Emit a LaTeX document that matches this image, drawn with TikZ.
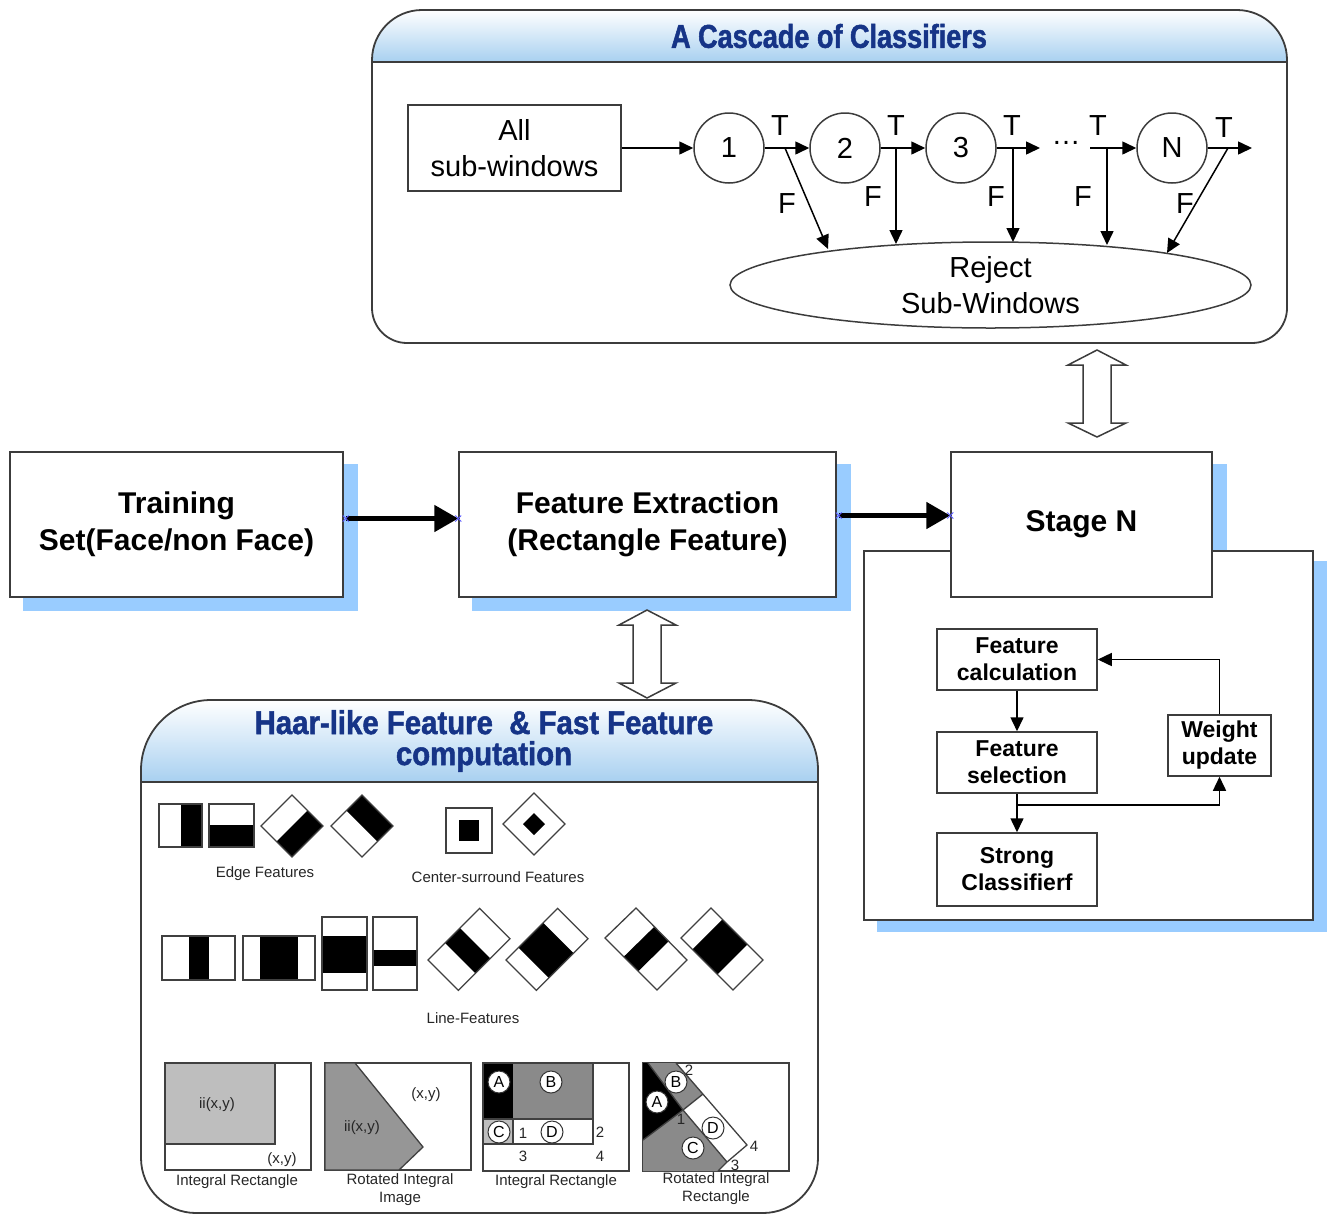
\documentclass[tikz,border=0pt]{standalone}
\usepackage{fontspec}
\setmainfont{Liberation Sans}
\newfontfamily\titlefont[FakeStretch=0.82,FakeBold=1.5]{Liberation Sans Bold}
\newfontfamily\htitlefont[FakeStretch=0.89,FakeBold=1.5]{Liberation Sans Bold}
\usetikzlibrary{arrows.meta,shapes.geometric,calc,backgrounds}
\definecolor{shadowblue}{RGB}{153,204,255}
\definecolor{headblue}{RGB}{168,208,240}
\definecolor{titleblue}{RGB}{22,52,135}
\definecolor{framegray}{RGB}{60,60,60}
\definecolor{lgray}{RGB}{190,190,190}
\definecolor{mgray}{RGB}{150,150,150}
\definecolor{dgray}{RGB}{138,138,138}
\definecolor{xblue}{RGB}{90,90,255}
\begin{document}
\begin{tikzpicture}[x=1pt,y=-1pt,
  frame/.style={draw=framegray, line width=1.8pt},
  box/.style={draw=framegray, line width=1.5pt, fill=white, inner sep=0pt, align=center},
  mainbox/.style={box, font=\fontsize{30}{37}\selectfont\bfseries},
  stagebox/.style={box, font=\fontsize{23}{27}\selectfont\bfseries},
  casc/.style={font=\fontsize{29}{36}\selectfont},
  stagecirc/.style={circle, draw=framegray, line width=1.5pt, minimum size=70pt, inner sep=0pt, casc},
  thinarrow/.style={draw=black, line width=1.5pt, -{Triangle[length=14pt,width=13pt]}},
  bigarrow/.style={draw=black, line width=5pt, -{Triangle[length=24pt,width=26pt]}},
  capt/.style={font=\fontsize{15}{18}\selectfont, text=black!85, align=center, inner sep=0pt},
  lab/.style={circle, draw=black!80, line width=1pt, fill=white, inner sep=0pt, minimum size=22pt, font=\fontsize{16}{16}\selectfont},
  feat/.style={draw=black!75, line width=1.3pt},
  xmark/.style={draw=xblue, line width=0.8pt}
]
\useasboundingbox (0,0) rectangle (1327,1216);

% ---------------- Cascade container ----------------
\begin{scope}
  \clip[rounded corners=50pt] (372,343) rectangle (1287,10);
  \shade[top color=white, bottom color=headblue] (372,10) rectangle (1287,62);
\end{scope}
\draw[frame, rounded corners=50pt] (372,200) -- (372,10) -- (1287,10) -- (1287,200);
\draw[frame, rounded corners=35pt] (1287,190) -- (1287,343) -- (372,343) -- (372,190);
\draw[frame] (372,62) -- (1287,62);
\node[font=\titlefont\fontsize{33}{33}\selectfont, text=titleblue] (ctitle) at (829,36) {A Cascade of Classifiers};

\node[box, casc, minimum width=213pt, minimum height=86pt] (allsub) at (514.5,148) {All\\sub-windows};
\node[stagecirc] (c1) at (729,148) {1};
\node[stagecirc] (c2) at (845,148) {2};
\node[stagecirc] (c3) at (961,148) {3};
\node[stagecirc] (cN) at (1172,148) {N};
\node[ellipse, draw=framegray, line width=1.5pt, minimum width=521pt, minimum height=86pt, inner sep=0pt, casc, align=center] (reject) at (990.5,285) {Reject\\Sub-Windows};

\coordinate (j1) at (785,148);
\coordinate (j2) at (896,148);
\coordinate (j3) at (1013,148);
\coordinate (j4) at (1107,148);
\coordinate (j5) at (1228,148);
\coordinate (r1) at (828,249);
\coordinate (r2) at (896,244);
\coordinate (r3) at (1013,242);
\coordinate (r4) at (1107,245);
\coordinate (r5) at (1167,253);
\coordinate (o3) at (1040,148);
\coordinate (i4) at (1090,148);
\coordinate (o5) at (1252,148);

\draw[thinarrow] (allsub) -- (c1);
\draw[thinarrow] (c1) -- (c2);
\draw[thinarrow] (c2) -- (c3);
\draw[thinarrow] (c3) -- (o3);
\draw[thinarrow] (i4) -- (cN);
\draw[thinarrow] (cN) -- (o5);
\draw[thinarrow] (j1) -- (r1);
\draw[thinarrow] (j2) -- (r2);
\draw[thinarrow] (j3) -- (r3);
\draw[thinarrow] (j4) -- (r4);
\draw[thinarrow] (j5) -- (r5);
\node[casc] (dots) at (1066,143) {…};
\node[casc] (t1) at (780,126) {T};
\node[casc] (t2) at (896,126) {T};
\node[casc] (t3) at (1012,126) {T};
\node[casc] (t4) at (1098,126) {T};
\node[casc] (t5) at (1224,128) {T};
\node[casc] (f1) at (787,204) {F};
\node[casc] (f2) at (873,197) {F};
\node[casc] (f3) at (996,197) {F};
\node[casc] (f4) at (1083,197) {F};
\node[casc] (f5) at (1185,204) {F};

% ---------------- Main row ----------------
\node[mainbox, minimum width=333pt, minimum height=145pt] (train) at (176.5,524.5) {Training\\Set(Face/non Face)};
\node[mainbox, minimum width=377pt, minimum height=145pt] (featx) at (647.5,524.5) {Feature Extraction\\(Rectangle Feature)};
\node[box, minimum width=449pt, minimum height=369pt] (stagebig) at (1088.5,735.5) {};
\node[mainbox, minimum width=261pt, minimum height=145pt] (stageN) at (1081.5,524.5) {Stage N};

\begin{pgfonlayer}{background}
  \fill[shadowblue] ($(train.north west)+(14,13)$) rectangle ($(train.south east)+(14,13)$);
  \fill[shadowblue] ($(featx.north west)+(14,13)$) rectangle ($(featx.south east)+(14,13)$);
  \fill[shadowblue] ($(stageN.north west)+(14,13)$) rectangle ($(stageN.south east)+(14,13)$);
  \fill[shadowblue] ($(stagebig.north west)+(14,11)$) rectangle ($(stagebig.south east)+(14,11)$);
\end{pgfonlayer}

\coordinate (a1) at ($(train.east)+(2,-6)$);
\coordinate (a2) at ($(featx.west)+(0,-6)$);
\coordinate (a3) at ($(featx.east)+(2,-9)$);
\coordinate (a4) at ($(stageN.west)+(0,-9)$);
\draw[bigarrow] (a1) -- (a2);
\draw[bigarrow] (a3) -- (a4);
\foreach \p in {a1,a2,a3,a4}{
  \draw[xmark] ($(\p)+(-3,-3)$) -- ($(\p)+(3,3)$);
  \draw[xmark] ($(\p)+(-3,3)$) -- ($(\p)+(3,-3)$);
}

% stage inner
\node[stagebox, minimum width=160pt, minimum height=61pt] (fcalc) at (1017,659.5) {Feature\\calculation};
\node[stagebox, minimum width=160pt, minimum height=61pt] (fsel) at (1017,762.5) {Feature\\selection};
\node[stagebox, minimum width=160pt, minimum height=73pt] (strong) at (1017,869.5) {Strong\\Classifierf};
\node[stagebox, minimum width=103pt, minimum height=61pt] (wupd) at (1219.5,745.5) {Weight\\update};
\coordinate (sp) at (1017,805);
\draw[thinarrow] (fcalc) -- (fsel);
\draw[thinarrow] (fsel) -- (strong);
\draw[thinarrow] (sp) -| (wupd.south);
\draw[thinarrow] (wupd.north) |- (fcalc.east);

% double arrows
\draw[draw=framegray, line width=1.5pt, fill=white] (647,610) -- (676,625) -- (661,625) -- (661,683) -- (676,683) -- (647,698) -- (619,683) -- (633,683) -- (633,625) -- (619,625) -- cycle;
\draw[draw=framegray, line width=1.5pt, fill=white] (1097,350) -- (1126,365) -- (1111,365) -- (1111,423) -- (1126,423) -- (1097,437) -- (1068,423) -- (1083,423) -- (1083,365) -- (1068,365) -- cycle;

% ---------------- Haar container ----------------
\begin{scope}
  \clip[rounded corners=70pt] (141,1213) rectangle (818,700);
  \shade[top color=white, bottom color=headblue] (141,700) rectangle (818,782);
\end{scope}
\draw[frame, rounded corners=70pt] (141,950) -- (141,700) -- (818,700) -- (818,950);
\draw[frame, rounded corners=55pt] (818,940) -- (818,1213) -- (141,1213) -- (141,940);
\draw[frame] (141,782) -- (818,782);
\node[font=\htitlefont\fontsize{33}{31}\selectfont, text=titleblue, align=center] (htitle) at (484,741) {Haar-like Feature \ \& Fast Feature\\computation};

% row 1: edge features
\fill[white] (159,804) rectangle (202,847); \fill[black] (181,804) rectangle (202,847); \draw[feat] (159,804) rectangle (202,847);
\fill[white] (209,804) rectangle (254,847); \fill[black] (209,825) rectangle (254,847); \draw[feat] (209,804) rectangle (254,847);
\fill[black] (276.5,841.5) -- (292,857) -- (323,826) -- (307.5,810.5) -- cycle;
\draw[feat] (261,826) -- (292,795) -- (323,826) -- (292,857) -- cycle;
\fill[black] (346.5,810.5) -- (362,795) -- (393,826) -- (377.5,841.5) -- cycle;
\draw[feat] (331,826) -- (362,795) -- (393,826) -- (362,857) -- cycle;
% center surround
\draw[feat] (446,808) rectangle (492,853); \fill[black] (459,820) rectangle (479,841);
\draw[feat] (503,824) -- (534,793) -- (565,824) -- (534,855) -- cycle;
\fill[black] (523,824) -- (534,813) -- (545,824) -- (534,835) -- cycle;
\node[capt] (edgecap) at (265,874) {Edge Features};
\node[capt] (cscap) at (498,877) {Center-surround Features};

% row 2: line features
\fill[black] (189,936) rectangle (209,980); \draw[feat] (162,936) rectangle (235,980);
\fill[black] (260,936) rectangle (298,980); \draw[feat] (243,936) rectangle (315,980);
\fill[black] (322,936) rectangle (367,973); \draw[feat] (322,917) rectangle (367,990);
\fill[black] (373,950) rectangle (417,966); \draw[feat] (373,917) rectangle (417,990);
% rotated line features
\fill[black] ($(428,960)!0.33!(479.6,908.4)$) -- ($(428,960)!0.62!(479.6,908.4)$) -- ($(458.4,990.4)!0.62!(510,938.8)$) -- ($(458.4,990.4)!0.33!(510,938.8)$) -- cycle;
\draw[feat] (428,960) -- (479.6,908.4) -- (510,938.8) -- (458.4,990.4) -- cycle;
\fill[black] ($(506,960)!0.24!(557.6,908.4)$) -- ($(506,960)!0.72!(557.6,908.4)$) -- ($(536.4,990.4)!0.72!(588,938.8)$) -- ($(536.4,990.4)!0.24!(588,938.8)$) -- cycle;
\draw[feat] (506,960) -- (557.6,908.4) -- (588,938.8) -- (536.4,990.4) -- cycle;
\fill[black] ($(605,938)!0.36!(657,990)$) -- ($(605,938)!0.64!(657,990)$) -- ($(636,908)!0.64!(687,960)$) -- ($(636,908)!0.36!(687,960)$) -- cycle;
\draw[feat] (605,938) -- (636,908) -- (687,960) -- (657,990) -- cycle;
\fill[black] ($(681,938)!0.22!(733,990)$) -- ($(681,938)!0.70!(733,990)$) -- ($(711,908)!0.70!(763,960)$) -- ($(711,908)!0.22!(763,960)$) -- cycle;
\draw[feat] (681,938) -- (711,908) -- (763,960) -- (733,990) -- cycle;
\node[capt] (linecap) at (473,1018) {Line-Features};

% row 3: integral images
\draw[feat] (165,1063) rectangle (311,1170);
\filldraw[feat, fill=lgray] (165,1063) rectangle (275,1144);
\node[capt] (ii1) at (217,1105) {ii(x,y)};
\node[capt] (xy1) at (282,1160) {(x,y)};
\node[capt] (cap1) at (237,1182) {Integral Rectangle};

\draw[feat] (325,1063) rectangle (471,1170);
\filldraw[feat, fill=mgray] (325,1063) -- (355,1063) -- (423,1147) -- (399,1170) -- (325,1170) -- cycle;
\node[capt] (ii2) at (362,1128) {ii(x,y)};
\node[capt] (xy2) at (426,1095) {(x,y)};
\node[capt] (cap2) at (400,1190) {Rotated Integral\\Image};

\draw[feat] (483,1063) rectangle (629,1171);
\fill[black] (483,1063) rectangle (513,1119);
\fill[dgray] (513,1063) rectangle (593,1119);
\fill[lgray] (483,1119) rectangle (513,1144);
\draw[feat] (483,1063) rectangle (593,1144);
\draw[feat] (483,1119) -- (593,1119);
\draw[feat] (513,1119) -- (513,1144);
\node[lab] (la) at (499,1082) {A};
\node[lab] (lb) at (551,1082) {B};
\node[lab] (lc) at (499,1132) {C};
\node[lab] (ld) at (552,1132) {D};
\node[capt] (n1) at (523,1133) {1};
\node[capt] (n2) at (600,1132) {2};
\node[capt] (n3) at (523,1156) {3};
\node[capt] (n4) at (600,1156) {4};
\node[capt] (cap3) at (556,1182) {Integral Rectangle};

\draw[feat] (643,1063) rectangle (789,1171);
\fill[black] (643,1063) -- (648,1063) -- (683,1110) -- (643,1140) -- cycle;
\fill[dgray] (648,1063) -- (676,1063) -- (703,1094) -- (683,1110) -- cycle;
\fill[dgray] (643,1140) -- (683,1110) -- (727,1162) -- (718,1171) -- (643,1171) -- cycle;
\draw[feat] (648,1063) -- (683,1110) -- (643,1140);
\draw[feat] (676,1063) -- (747,1145) -- (727,1162) -- (718,1171);
\draw[feat] (683,1110) -- (703,1094);
\draw[feat] (683,1110) -- (727,1162);
\node[lab] (ra) at (657,1102) {A};
\node[lab] (rb) at (676,1082) {B};
\node[lab] (rc) at (693,1148) {C};
\node[lab] (rd) at (713,1128) {D};
\node[capt] (m2) at (689,1070) {2};
\node[capt] (m1) at (681,1119) {1};
\node[capt] (m4) at (754,1146) {4};
\node[capt] (m3) at (735,1165) {3};
\node[capt] (cap4) at (716,1189) {Rotated Integral\\Rectangle};
\end{tikzpicture}
\end{document}
